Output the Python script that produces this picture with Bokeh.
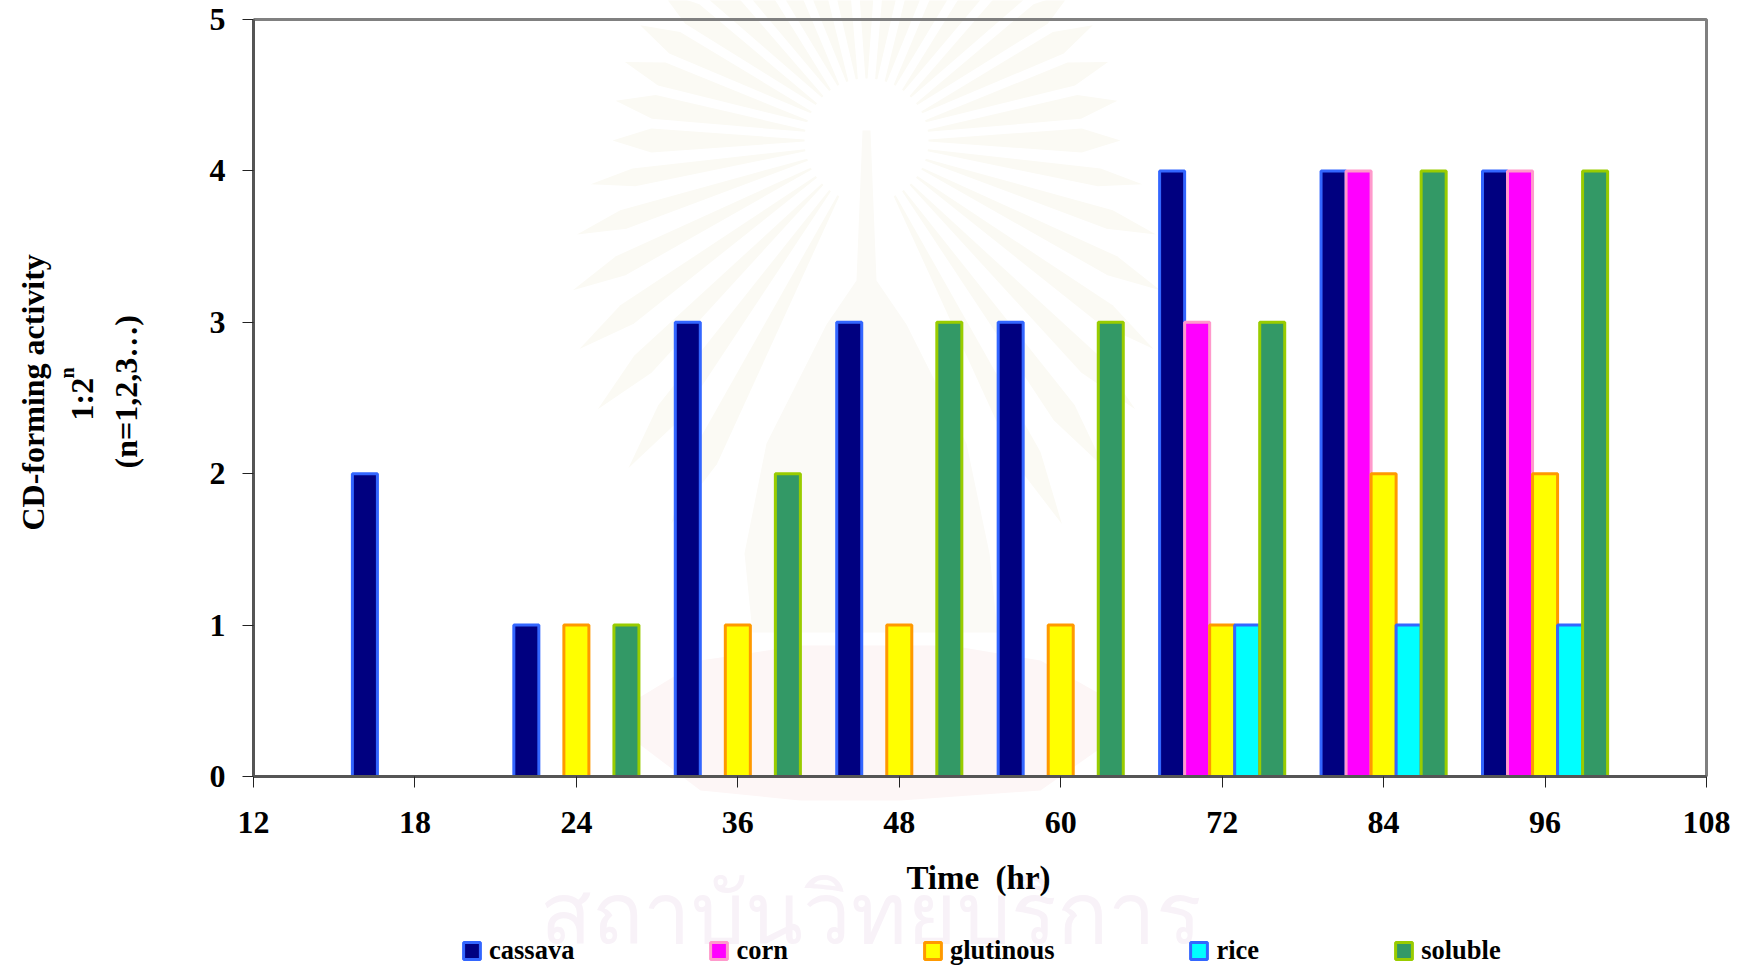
import math

from bokeh.core.properties import value
from bokeh.embed import file_html
from bokeh.models import ColumnDataSource, FixedTicker, Label, Legend, LegendItem, Range1d
from bokeh.plotting import figure
from bokeh.resources import INLINE

# Category slots along the time axis; clusters sit on the labelled ticks.
tick_labels = ["12", "18", "24", "36", "48", "60", "72", "84", "96", "108"]
hours = ["18", "24", "36", "48", "60", "72", "84", "96"]

cassava = [2, 1, 3, 3, 3, 4, 4, 4]
corn = [0, 0, 0, 0, 0, 3, 4, 4]
glutinous = [0, 1, 1, 1, 1, 1, 2, 2]
rice = [0, 0, 0, 0, 0, 1, 1, 1]
soluble = [0, 1, 2, 3, 3, 3, 4, 4]

series_names = ["cassava", "corn", "glutinous", "rice", "soluble"]
series_values = [cassava, corn, glutinous, rice, soluble]
fill_colors = ["#000080", "#FF00FF", "#FFFF00", "#00FFFF", "#339966"]
edge_colors = ["#3366FF", "#FF99CC", "#FF9900", "#3366FF", "#99CC00"]

SERIF = "Liberation Serif"
BAR_STEP = 0.155

# Page size and the pixel box that the value axes occupy on it.
WIDTH, HEIGHT = 1742, 968
LEFT, RIGHT, TOP, BOTTOM = 253, 1706, 19, 776
X_SPAN = len(tick_labels) - 1
Y_SPAN = 5


def to_x(px):
    return (px - LEFT) / (RIGHT - LEFT) * X_SPAN


def to_y(py):
    return (BOTTOM - py) / (BOTTOM - TOP) * Y_SPAN


# The frame fills the whole page so captions and legend are free to sit anywhere;
# the axes are pinned at zero and bounded to the plotting box.
p = figure(
    width=WIDTH,
    height=HEIGHT,
    output_backend="svg",
    toolbar_location=None,
    x_range=Range1d(to_x(0), to_x(WIDTH)),
    y_range=Range1d(to_y(HEIGHT), to_y(0)),
    min_border=0,
    background_fill_color="white",
    border_fill_color="white",
)
p.grid.visible = False
p.outline_line_color = None

# Pale crest printed behind the chart: ray fan, stupa body, pink plinth.
RAY_TINT = "#FBFAF4"
BODY_TINT = "#FBFAF6"
PLINTH_TINT = "#FDF6F6"
crest_cx, crest_cy = 866, 140
for k in range(-17, 18):
    off = k * 9.0
    deg = 90 - off
    r0 = 62
    r1 = 254 if abs(off) <= 90 else 254 + (abs(off) - 90) * 2.8
    half_in, half_out = 1.0, (3.2 if abs(off) <= 90 else 2.2)
    rm = r0 + 0.8 * (r1 - r0)
    pts = [(r0, deg - half_in), (rm, deg - half_out), (r1, deg), (rm, deg + half_out), (r0, deg + half_in)]
    xs = [crest_cx + r * math.cos(math.radians(a)) for r, a in pts]
    ys = [crest_cy - r * math.sin(math.radians(a)) for r, a in pts]
    p.patch([to_x(v) for v in xs], [to_y(v) for v in ys], fill_color=RAY_TINT, line_color=None, level="underlay")

body_x = [862, 870, 876, 906, 966, 989, 997, 752, 744, 766, 826, 856]
body_y = [130, 130, 280, 324, 443, 553, 632, 632, 553, 443, 324, 280]
p.patch([to_x(v) for v in body_x], [to_y(v) for v in body_y], fill_color=BODY_TINT, line_color=None, level="underlay")

plinth_x = [700, 800, 950, 1040, 1111, 1111, 1040, 900, 800, 700, 634, 634]
plinth_y = [660, 645, 645, 660, 700, 740, 790, 800, 800, 790, 740, 700]
p.patch([to_x(v) for v in plinth_x], [to_y(v) for v in plinth_y], fill_color=PLINTH_TINT, line_color=None, level="underlay")

# Grey top and right edges of the plotting box.
p.line([0, X_SPAN, X_SPAN], [Y_SPAN, Y_SPAN, 0], line_color="#808080", line_width=3)

# Clustered bars, skipping empty slots so no stub is stroked on the baseline.
renderers = []
for idx, (name, vals, fill, edge) in enumerate(zip(series_names, series_values, fill_colors, edge_colors)):
    xs = [i + 1 + (idx - 2) * BAR_STEP for i, v in enumerate(vals) if v > 0]
    tops = [v for v in vals if v > 0]
    src = ColumnDataSource(data=dict(x=xs, top=tops))
    r = p.vbar(x="x", top="top", width=BAR_STEP, bottom=0, source=src,
               fill_color=fill, line_color=edge, line_width=3)
    renderers.append(r)

# Axes
for ax in (p.xaxis[0], p.yaxis[0]):
    ax.fixed_location = 0
    ax.axis_line_color = "#555555"
    ax.axis_line_width = 3
    ax.major_tick_line_color = "#222222"
    ax.major_tick_line_width = 1
    ax.major_tick_in = 0
    ax.major_tick_out = 11
    ax.minor_tick_line_color = None
    ax.major_label_text_font = SERIF
    ax.major_label_text_font_style = "bold"
    ax.major_label_text_font_size = "32px"
    ax.major_label_text_color = "black"

p.xaxis[0].bounds = (0, X_SPAN)
p.xaxis[0].ticker = FixedTicker(ticks=list(range(len(tick_labels))))
p.xaxis[0].major_label_overrides = {i: t for i, t in enumerate(tick_labels)}
p.xaxis[0].major_label_standoff = 24
p.yaxis[0].bounds = (0, Y_SPAN)
p.yaxis[0].ticker = FixedTicker(ticks=[0, 1, 2, 3, 4, 5])
p.yaxis[0].major_label_standoff = 17


def page_label(text, px, py, size, angle=0.0, align="left", color="black", font=SERIF, style="bold"):
    # Text placed by page pixel, measured from the top-left corner.
    p.add_layout(Label(
        x=px, y=HEIGHT - py, x_units="screen", y_units="screen",
        text=text, angle=angle,
        text_font=font, text_font_style=style, text_font_size=f"{size}px",
        text_color=color, text_baseline="alphabetic", text_align=align,
    ))


page_label("สถาบันวิทยบริการ", 539, 909, 85, color="#F8F2F8", font="Noto Sans", style="normal")
page_label("Time\u00a0\u00a0(hr)", 978, 877, 33, align="center")
page_label("CD-forming activity", 32, 530, 32, angle=math.pi / 2)
page_label("1:2", 81, 420, 32, angle=math.pi / 2)
page_label("n", 66, 378, 20, angle=math.pi / 2)
page_label("(n=1,2,3…)", 125, 468, 32, angle=math.pi / 2)

legend = Legend(
    items=[LegendItem(label=value(n), renderers=[r]) for n, r in zip(series_names, renderers)],
    orientation="horizontal",
    location=(461, 2),
    spacing=134,
    padding=0,
    margin=0,
    glyph_width=21,
    glyph_height=21,
    label_standoff=7,
    label_text_font=SERIF,
    label_text_font_style="bold",
    label_text_font_size="26.5px",
    label_text_color="black",
    border_line_color=None,
    background_fill_color=None,
)
p.add_layout(legend)

open("out.html", "w").write(file_html(p, INLINE))
